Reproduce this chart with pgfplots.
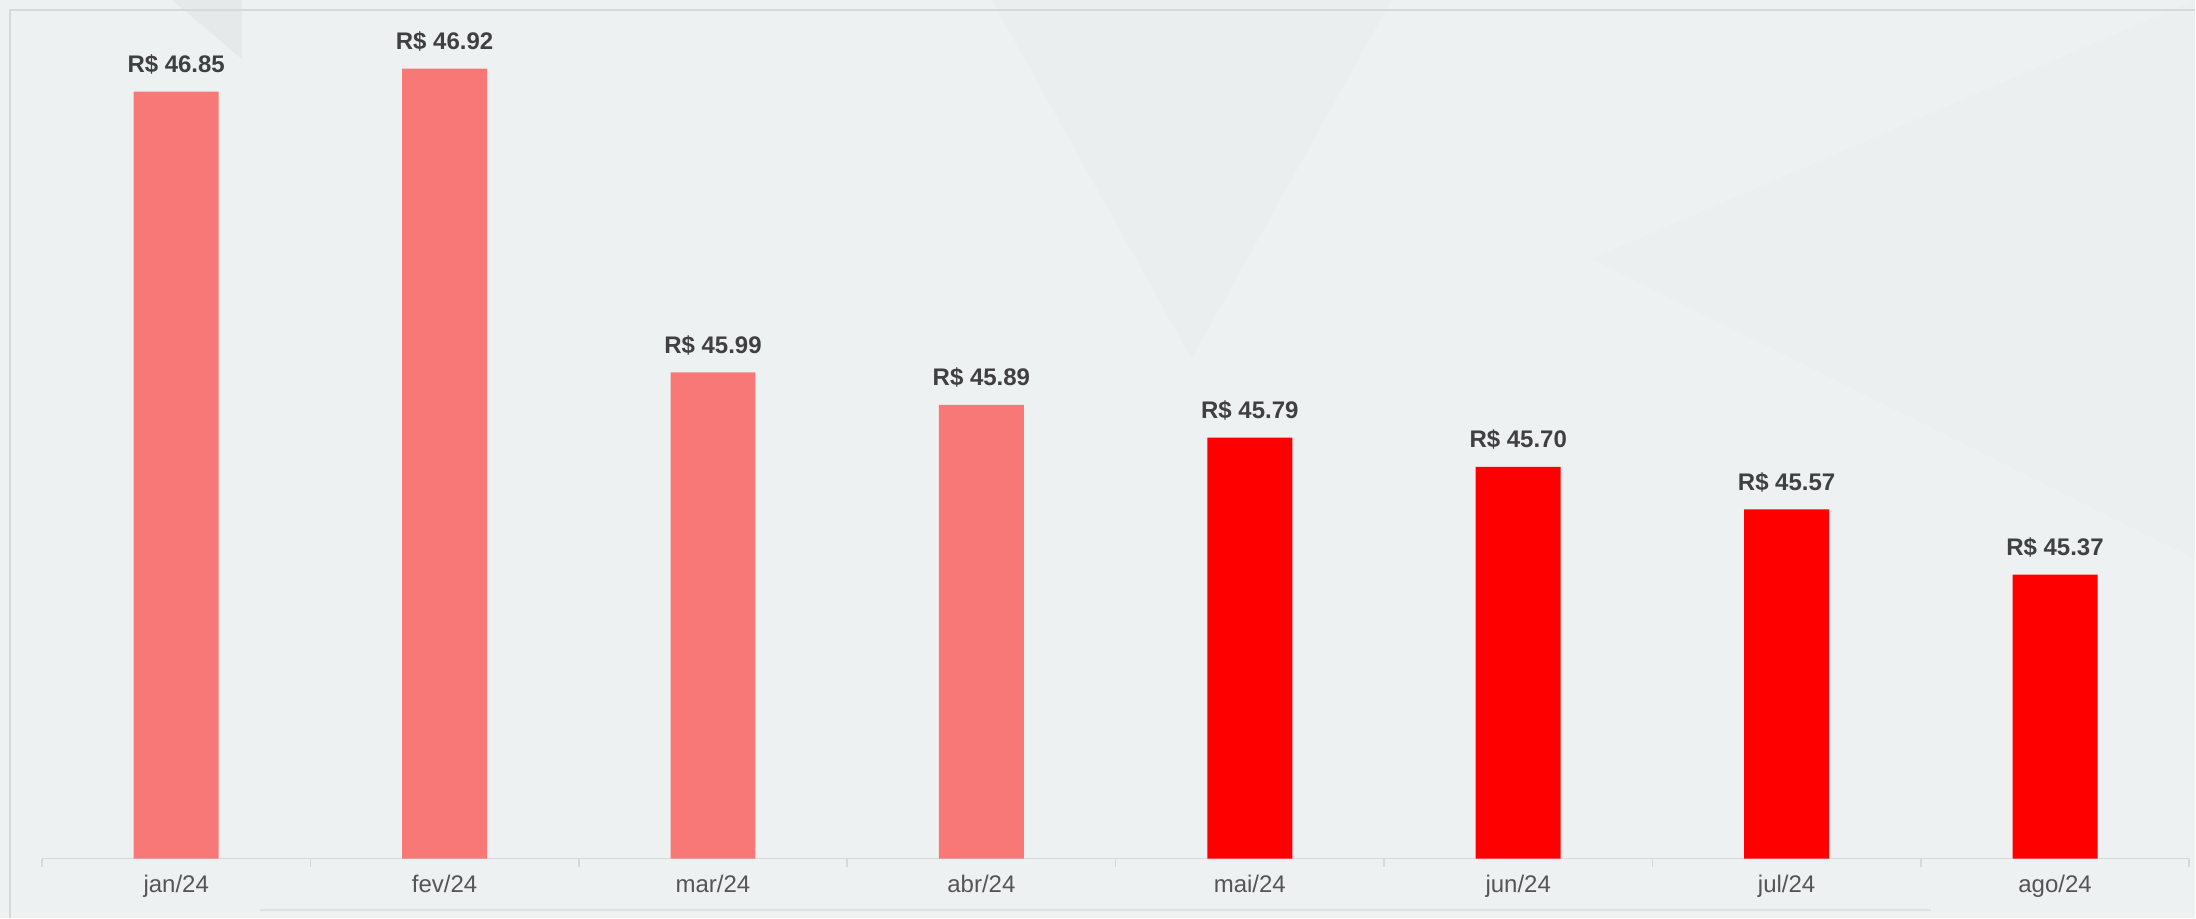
\documentclass[border=0pt]{standalone}
\usepackage{pgfplots}
\pgfplotsset{compat=1.18}
\usepackage{fontspec}
\setmainfont{Liberation Sans}
\definecolor{bg}{HTML}{EEF1F2}
\definecolor{barlight}{HTML}{F87878}
\definecolor{barred}{HTML}{FF0000}
\definecolor{lbl}{HTML}{404040}
\definecolor{ticktxt}{HTML}{555555}
\definecolor{axisgray}{HTML}{D6D8DA}

\begin{document}
\begin{tikzpicture}[x=1pt,y=1pt]
% panel background and frame
\fill[bg] (-42,-59) rectangle (2154,859);
\fill[bg!94!black, opacity=0.15] (950,859) -- (1350,859) -- (1150,500) -- cycle;
\fill[bg!94!black, opacity=0.12] (1550,600) -- (2154,300) -- (2154,859) -- cycle;
\fill[bg!90!black, opacity=0.3] (130,859) -- (200,859) -- (200,800) -- cycle;
\draw[axisgray, line width=1.5pt] (-32,-59) -- (-32,849) -- (2154,849);
\draw[axisgray!80, line width=2pt] (218,-51) -- (1890,-51);
\begin{axis}[
    at={(0,0)}, anchor=south west,
    scale only axis,
    width=2148pt, height=849pt,
    ybar, bar width=85pt,
    xmin=-0.5, xmax=7.5,
    ymin=44.5, ymax=47.1,
    axis x line*=bottom,
    axis y line=none,
    x axis line style={-, axisgray, line width=1.5pt},
    xtick={0,...,7},
    xticklabels={jan/24,fev/24,mar/24,abr/24,mai/24,jun/24,jul/24,ago/24},
    minor xtick={-0.5,0.5,...,7.5},
    major tick length=0pt,
    minor tick length=8pt,
    tick align=outside,
    minor tick style={axisgray, line width=1.5pt},
    x tick label style={font=\fontsize{24}{28}\selectfont, text=ticktxt, yshift=-13pt},
    ytick=\empty,
    clip=false,
    /pgf/number format/assume math mode=true,
    nodes near coords={R\$ \pgfmathprintnumber[fixed,precision=2,fixed zerofill]{\pgfplotspointmeta}},
    nodes near coords style={font=\bfseries\fontsize{24}{28}\selectfont, text=lbl, anchor=south, yshift=14pt},
]
\addplot[fill=barlight, draw=none, bar shift=0pt] coordinates {
    (0,46.85) (1,46.92) (2,45.99) (3,45.89)
};
\addplot[fill=barred, draw=none, bar shift=0pt] coordinates {
    (4,45.79) (5,45.70) (6,45.57) (7,45.37)
};
\end{axis}
\end{tikzpicture}
\end{document}
